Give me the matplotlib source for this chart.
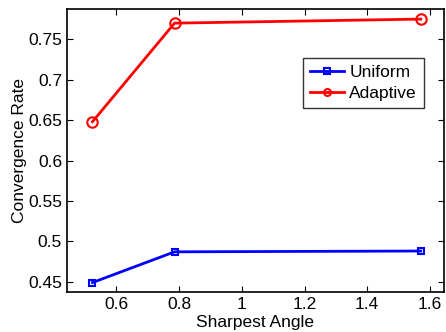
import numpy as np
import matplotlib
matplotlib.use('Agg')
import matplotlib.pyplot as plt

# sharpest angle (radians) vs convergence rate
angles = [np.pi / 6, np.pi / 4, np.pi / 2]
uniform = [0.449, 0.487, 0.488]
adaptive = [0.648, 0.770, 0.775]

plt.rcParams['font.family'] = ['Liberation Sans', 'DejaVu Sans']

fig = plt.figure(figsize=(4.46, 3.32), dpi=100)
ax = fig.add_axes([0.150, 0.1205, 0.8455, 0.8524])

ax.plot(angles, uniform, color='blue', marker='s', markersize=4.5, markerfacecolor='none',
        markeredgewidth=1.5, linewidth=2, label='Uniform')
ax.plot(angles, adaptive, color='red', marker='o', markersize=7.5, markerfacecolor='none',
        markeredgewidth=1.5, linewidth=2, label='Adaptive')

ax.set_xlim(0.442, 1.645)
ax.set_ylim(0.4373, 0.7875)
ax.set_xticks([0.6, 0.8, 1, 1.2, 1.4, 1.6])
ax.set_xticklabels(['0.6', '0.8', '1', '1.2', '1.4', '1.6'])
ax.set_yticks([0.45, 0.5, 0.55, 0.6, 0.65, 0.7, 0.75])
ax.set_yticklabels(['0.45', '0.5', '0.55', '0.6', '0.65', '0.7', '0.75'])
ax.tick_params(direction='in', top=True, right=True, labelsize=12.5, length=4, width=0.8)
for s in ax.spines.values():
    s.set_linewidth(1.2)

ax.set_xlabel('Sharpest Angle', fontsize=12.5, labelpad=2)
ax.set_ylabel('Convergence Rate', fontsize=12.5, labelpad=1)

leg = ax.legend(loc='upper right', bbox_to_anchor=(0.947, 0.827), fontsize=12.5, frameon=True,
                fancybox=False, edgecolor='black', handlelength=2.0, handletextpad=0.3,
                borderpad=0.4, labelspacing=0.35, borderaxespad=0)
leg.get_frame().set_linewidth(1.0)
for h in leg.legend_handles:
    h.set_markersize(5)

fig.savefig('out.png', dpi=100)
